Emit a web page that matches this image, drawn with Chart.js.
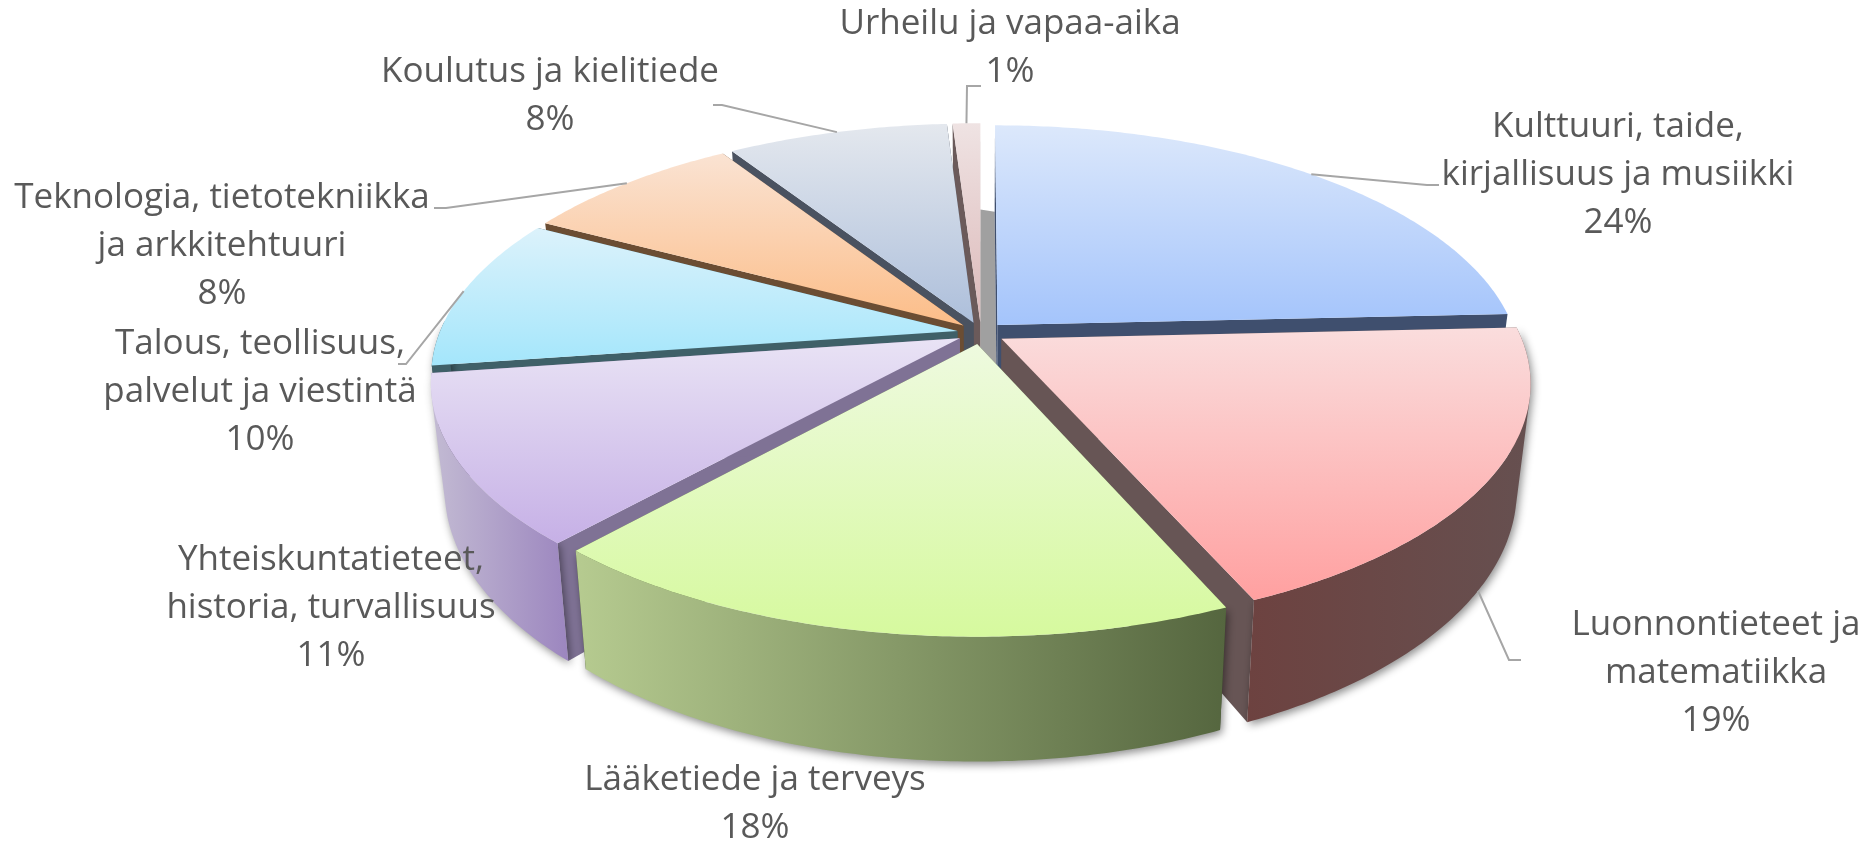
<!DOCTYPE html>
<html>
<head>
<meta charset="utf-8">
<title>Aihealueet</title>
<script src="https://cdn.jsdelivr.net/npm/chart.js@4/dist/chart.umd.min.js"></script>
<style>
    html, body { margin: 0; padding: 0; background: #fff; }
    #wrap { width: 1872px; height: 842px; }
</style>
</head>
<body>
<div id="wrap"><canvas id="pieChart"></canvas></div>
<script>
// Values as printed on the chart (they add up to 99 because of rounding)
const categories = [
    "Kulttuuri, taide, kirjallisuus ja musiikki",
    "Luonnontieteet ja matematiikka",
    "Lääketiede ja terveys",
    "Yhteiskuntatieteet, historia, turvallisuus",
    "Talous, teollisuus, palvelut ja viestintä",
    "Teknologia, tietotekniikka ja arkkitehtuuri",
    "Koulutus ja kielitiede",
    "Urheilu ja vapaa-aika"
];
const shares = [24, 19, 18, 11, 10, 8, 8, 1];

// How the labels wrap
const labelLines = [
    ["Kulttuuri, taide,", "kirjallisuus ja musiikki"],
    ["Luonnontieteet ja", "matematiikka"],
    ["Lääketiede ja terveys"],
    ["Yhteiskuntatieteet,", "historia, turvallisuus"],
    ["Talous, teollisuus,", "palvelut ja viestintä"],
    ["Teknologia, tietotekniikka", "ja arkkitehtuuri"],
    ["Koulutus ja kielitiede"],
    ["Urheilu ja vapaa-aika"]
];

// Slice colours: top face gradient, side walls
const faceTop = ["#dce8fb", "#fadddd", "#eefadf", "#e9e3f5", "#dcf2fb", "#fae3d3", "#e4e8ee", "#efe3e3"];
const faceBottom = ["#a4c4fb", "#ffa0a0", "#d6f99e", "#c6b0e6", "#a4e6fb", "#fcbd88", "#adbfdb", "#dcb9b9"];
const wallLeft = ["#3f4f6e", "#6d4240", "#b6cb90", "#c3bbd3", "#3f6068", "#6b4d33", "#4a5260", "#6b5a5a"];
const wallRight = ["#3f4f6e", "#665050", "#55663f", "#9c86bf", "#3f6068", "#6b4d33", "#4a5260", "#6b5a5a"];
const edgeColors = ["#3f4f6e", "#675555", "#566640", "#7f7295", "#3f6068", "#6b4d33", "#4a5260", "#6b5a5a"];

// Label centre x and first baseline, plus the bend of each leader line
const labelSpots = [[1618, 137], [1716, 635], [755, 790], [331, 570], [260, 354], [222, 208], [550, 82], [1010, 34]];
const leaderBends = [
    [[1427, 185], [1439, 185]],
    [[1509, 660], [1521, 660]],
    null,
    null,
    [[406, 364], [398, 364]],
    [[446, 208], [434, 208]],
    [[722, 105], [713, 105]],
    [[967, 86], [981, 86]]
];

// Tilt of the pie: flattening, perspective strength, thickness
const FLATTEN = 0.458;
const PERSPECTIVE = 0.175;
const DEPTH = 102;
const BOTTOM_SHRINK = 0.975;
const FONT = '35px "Open Sans", sans-serif';
const LINE_HEIGHT = 48;

// Project a point of the pie plane (relative to the chart centre) to the canvas
function project(arc, px, py, depth) {
    const s = 1 / (1 - PERSPECTIVE * py / arc.outerRadius);
    const shrink = depth ? BOTTOM_SHRINK : 1;
    return {
        x: arc.x + px * s * shrink,
        y: arc.y + FLATTEN * py * s + depth * s
    };
}

// Same offset the library's own arc applies when it is exploded
function sliceOffset(arc) {
    const mid = (arc.startAngle + arc.endAngle) / 2;
    const off = (arc.options.offset || 0) / 4;
    return { x: Math.cos(mid) * off, y: Math.sin(mid) * off, mid: mid };
}

function apexPoint(arc, depth) {
    const o = sliceOffset(arc);
    return project(arc, o.x, o.y, depth);
}

function rimPoint(arc, angle, depth) {
    const o = sliceOffset(arc);
    return project(arc, o.x + Math.cos(angle) * arc.outerRadius, o.y + Math.sin(angle) * arc.outerRadius, depth);
}

function rimAngles(arc) {
    const angles = [];
    const steps = Math.max(2, Math.ceil((arc.endAngle - arc.startAngle) * 90));
    for (let i = 0; i <= steps; i++) {
        angles.push(arc.startAngle + (arc.endAngle - arc.startAngle) * i / steps);
    }
    return angles;
}

function fillPolygon(ctx, pts, fill) {
    ctx.beginPath();
    pts.forEach((p, i) => i ? ctx.lineTo(p.x, p.y) : ctx.moveTo(p.x, p.y));
    ctx.closePath();
    ctx.fillStyle = fill;
    ctx.fill();
}

// Outer wall as a union of small quads, all wound the same way so the bend at the silhouette stays filled
function drawOuterWall(ctx, arc, i) {
    const angles = rimAngles(arc).filter(a => Math.sin(a) > -0.05);
    if (angles.length < 2) return;

    const xs = [];
    ctx.beginPath();
    for (let n = 0; n < angles.length - 1; n++) {
        const quad = [
            rimPoint(arc, angles[n], 0),
            rimPoint(arc, angles[n + 1], 0),
            rimPoint(arc, angles[n + 1], DEPTH),
            rimPoint(arc, angles[n], DEPTH)
        ];
        let area = 0;
        quad.forEach((p, k) => {
            const q = quad[(k + 1) % 4];
            area += p.x * q.y - q.x * p.y;
            xs.push(p.x);
        });
        if (area < 0) quad.reverse();
        quad.forEach((p, k) => k ? ctx.lineTo(p.x, p.y) : ctx.moveTo(p.x, p.y));
        ctx.closePath();
    }
    const grad = ctx.createLinearGradient(Math.min(...xs), 0, Math.max(...xs), 0);
    grad.addColorStop(0, wallLeft[i]);
    grad.addColorStop(1, wallRight[i]);

    ctx.save();
    ctx.shadowColor = "rgba(0,0,0,0.45)";
    ctx.shadowBlur = 8;
    ctx.shadowOffsetX = 2;
    ctx.shadowOffsetY = 3;
    ctx.fillStyle = grad;
    ctx.fill();
    ctx.restore();
}

function drawWalls(ctx, arc, i) {
    const a = arc.startAngle, b = arc.endAngle;
    fillPolygon(ctx, [apexPoint(arc, 0), rimPoint(arc, a, 0), rimPoint(arc, a, DEPTH), apexPoint(arc, DEPTH)], edgeColors[i]);
    fillPolygon(ctx, [apexPoint(arc, 0), rimPoint(arc, b, 0), rimPoint(arc, b, DEPTH), apexPoint(arc, DEPTH)], edgeColors[i]);
    drawOuterWall(ctx, arc, i);
}

function drawFace(ctx, arc, i) {
    const pts = [apexPoint(arc, 0)].concat(rimAngles(arc).map(a => rimPoint(arc, a, 0)));
    const ys = pts.map(p => p.y);
    const grad = ctx.createLinearGradient(0, Math.min(...ys), 0, Math.max(...ys));
    grad.addColorStop(0, faceTop[i]);
    grad.addColorStop(1, faceBottom[i]);
    fillPolygon(ctx, pts, grad);
}

// The grey strip seen through the gap between the last and the first slice
function drawBackGap(ctx, arcs) {
    const first = arcs[0], last = arcs[arcs.length - 1];
    fillPolygon(ctx, [
        rimPoint(last, last.endAngle, DEPTH),
        rimPoint(first, first.startAngle, DEPTH),
        apexPoint(first, DEPTH),
        apexPoint(last, DEPTH)
    ], "#a0a0a0");
}

const tiltedPie = {
    id: "tiltedPie",
    beforeDatasetsDraw(chart) {
        const ctx = chart.ctx;
        const arcs = chart.getDatasetMeta(0).data;
        const order = arcs.map((a, i) => i).sort((m, n) => sliceOffset(arcs[m]).y - sliceOffset(arcs[n]).y);
        drawBackGap(ctx, arcs);
        order.forEach(i => drawWalls(ctx, arcs[i], i));
        arcs.forEach((a, i) => drawFace(ctx, a, i));
        return false; // faces are drawn here, skip the flat default arcs
    },
    afterDraw(chart) {
        const ctx = chart.ctx;
        const arcs = chart.getDatasetMeta(0).data;
        arcs.forEach((arc, i) => {
            const bends = leaderBends[i];
            if (bends) {
                const mid = sliceOffset(arc).mid;
                const start = rimPoint(arc, mid, Math.sin(mid) > 0 ? DEPTH : 0);
                ctx.beginPath();
                ctx.moveTo(start.x, start.y);
                bends.forEach(p => ctx.lineTo(p[0], p[1]));
                ctx.strokeStyle = "#a6a6a6";
                ctx.lineWidth = 2;
                ctx.stroke();
            }
            const lines = labelLines[i].concat([shares[i] + "%"]);
            ctx.font = FONT;
            ctx.fillStyle = "#595959";
            ctx.textAlign = "center";
            ctx.textBaseline = "alphabetic";
            lines.forEach((text, n) => {
                ctx.fillText(text, labelSpots[i][0], labelSpots[i][1] + n * LINE_HEIGHT);
            });
        });
    }
};

document.addEventListener("DOMContentLoaded", () => {
    new Chart(document.getElementById("pieChart"), {
        type: "pie",
        data: {
            labels: categories,
            datasets: [{
                data: shares,
                backgroundColor: faceBottom,
                borderWidth: 0,
                offset: 96,
                radius: 518,
                clip: false
            }]
        },
        options: {
            responsive: true,
            maintainAspectRatio: false,
            animation: false,
            layout: { padding: { left: 90, bottom: 176 } },
            plugins: { legend: { display: false }, tooltip: { enabled: false } }
        },
        plugins: [tiltedPie]
    });
});
</script>
</body>
</html>
